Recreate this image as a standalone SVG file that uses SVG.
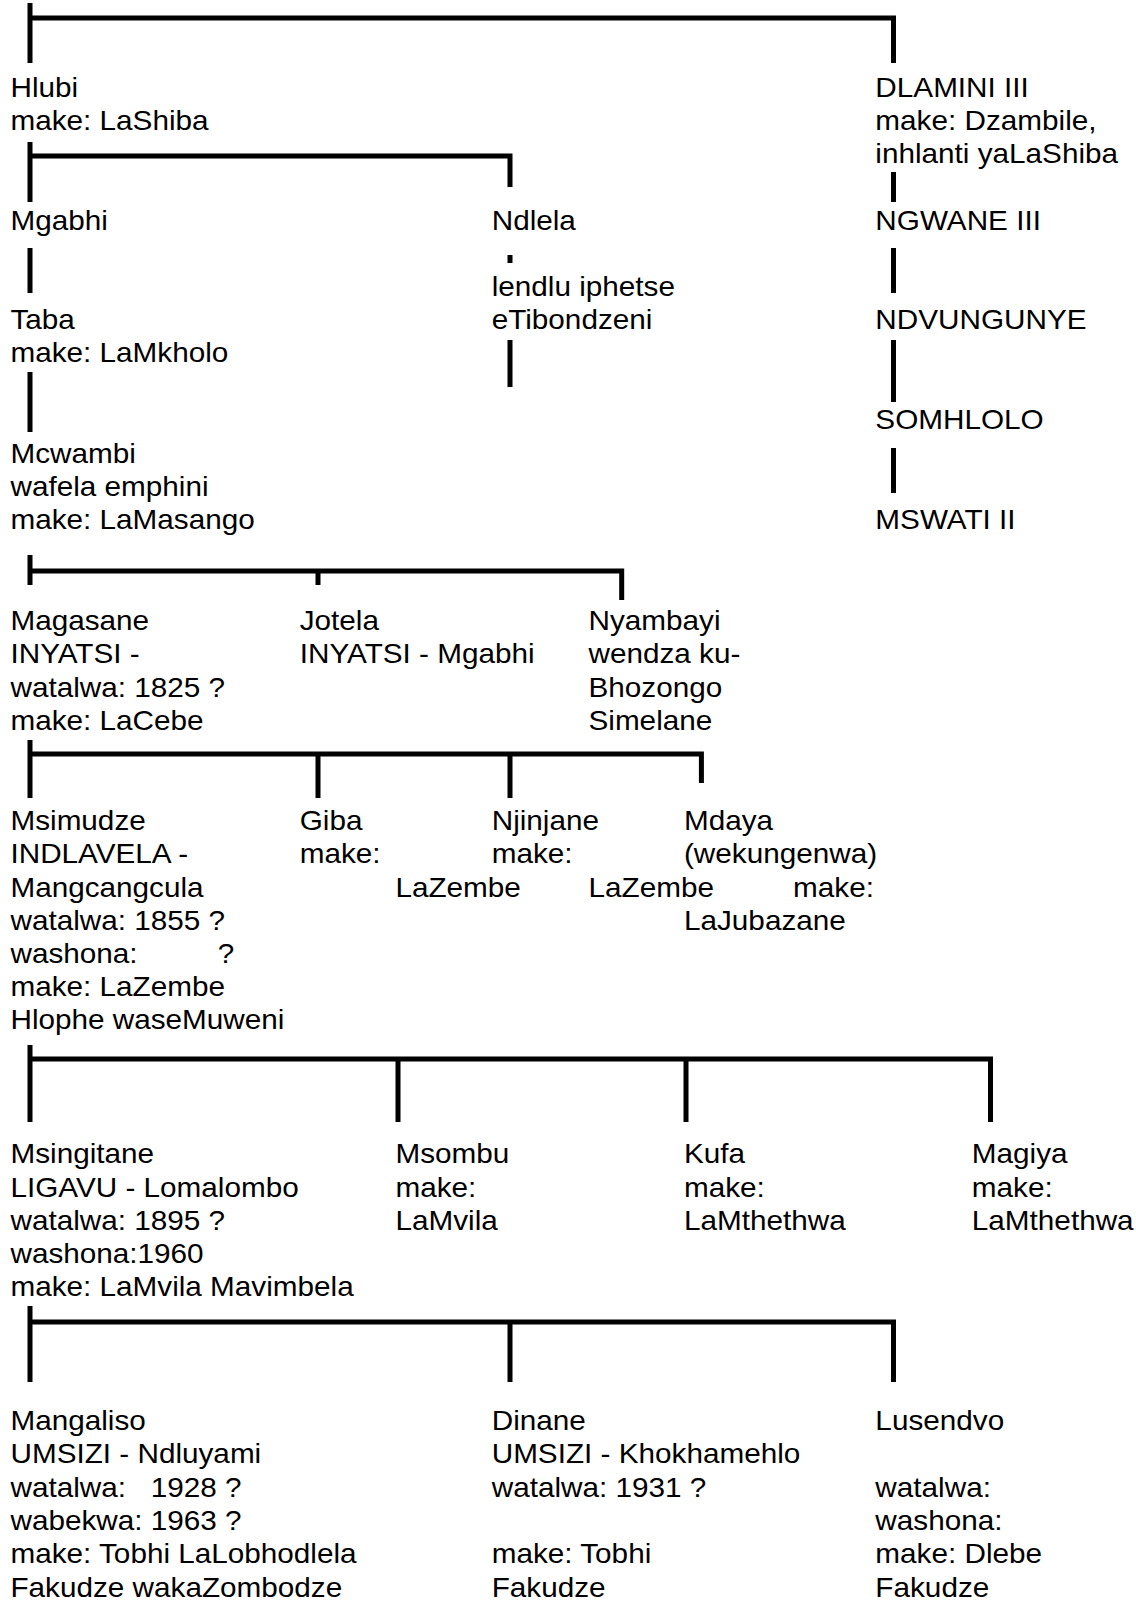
<svg xmlns="http://www.w3.org/2000/svg" width="1136" height="1601" viewBox="0 0 1136 1601">
  <style>
    .t { font-family: "Liberation Sans", Arial, sans-serif; font-size: 27px; fill: #000; white-space: pre; }
    .ln { fill: none; stroke: #000; stroke-width: 5; stroke-linecap: butt; stroke-linejoin: miter; }
  </style>
  <rect width="1136" height="1601" fill="#fff"/>

  <!-- family lines -->
  <g id="connectors">
    <!-- top generation -->
    <path class="ln" d="M30,3 V63"/>
    <path class="ln" d="M30,18 H893.5 V63"/>
    <!-- Hlubi's sons -->
    <path class="ln" d="M30,142 V202"/>
    <path class="ln" d="M30,156 H510 V187"/>
    <path class="ln" d="M510,255 V263"/>
    <path class="ln" d="M510,340 V387"/>
    <!-- left line of descent -->
    <path class="ln" d="M30,248 V293"/>
    <path class="ln" d="M30,372 V432"/>
    <!-- royal line -->
    <path class="ln" d="M893.5,172 V202"/>
    <path class="ln" d="M893.5,248 V293"/>
    <path class="ln" d="M893.5,340 V402"/>
    <path class="ln" d="M893.5,448 V493"/>
    <!-- Mcwambi's sons -->
    <path class="ln" d="M30,555 V585"/>
    <path class="ln" d="M30,571 H621.7 V600"/>
    <path class="ln" d="M318,571 V585"/>
    <!-- Magasane's sons -->
    <path class="ln" d="M30,740 V798"/>
    <path class="ln" d="M30,754 H701.4 V783"/>
    <path class="ln" d="M318,754 V798"/>
    <path class="ln" d="M510,754 V798"/>
    <!-- Msimudze's sons -->
    <path class="ln" d="M30,1045 V1122"/>
    <path class="ln" d="M30,1059 H990.5 V1122"/>
    <path class="ln" d="M398,1059 V1122"/>
    <path class="ln" d="M686,1059 V1122"/>
    <!-- Msingitane's sons -->
    <path class="ln" d="M30,1306 V1382"/>
    <path class="ln" d="M30,1322 H893.5 V1382"/>
    <path class="ln" d="M510,1322 V1382"/>
  </g>

  <!-- names are set in a horizontally widened face -->
  <g id="people" transform="scale(1.1 1)">
    <g id="hlubi"><text class="t" x="9.5" y="97">Hlubi<tspan x="9.5" y="130">make: LaShiba</tspan></text></g>
    <g id="dlamini-iii"><text class="t" x="795.8" y="97">DLAMINI III<tspan x="795.8" y="130">make: Dzambile,</tspan><tspan x="795.8" y="163">inhlanti yaLaShiba</tspan></text></g>
    <g id="mgabhi"><text class="t" x="9.5" y="230">Mgabhi</text></g>
    <g id="ndlela"><text class="t" x="447" y="230">Ndlela</text></g>
    <g id="ndlela-house"><text class="t" x="447" y="296">lendlu iphetse<tspan x="447" y="329">eTibondzeni</tspan></text></g>
    <g id="ngwane-iii"><text class="t" x="795.8" y="230">NGWANE III</text></g>
    <g id="taba"><text class="t" x="9.5" y="329">Taba<tspan x="9.5" y="362">make: LaMkholo</tspan></text></g>
    <g id="ndvungunye"><text class="t" x="795.8" y="329">NDVUNGUNYE</text></g>
    <g id="somhlolo"><text class="t" x="795.8" y="429">SOMHLOLO</text></g>
    <g id="mcwambi"><text class="t" x="9.5" y="463">Mcwambi<tspan x="9.5" y="496">wafela emphini</tspan><tspan x="9.5" y="529">make: LaMasango</tspan></text></g>
    <g id="mswati-ii"><text class="t" x="795.8" y="529">MSWATI II</text></g>

    <g id="magasane"><text class="t" x="9.5" y="630">Magasane<tspan x="9.5" y="663">INYATSI -</tspan><tspan x="9.5" y="697">watalwa: 1825 ?</tspan><tspan x="9.5" y="730">make: LaCebe</tspan></text></g>
    <g id="jotela"><text class="t" x="272.5" y="630">Jotela<tspan x="272.5" y="663">INYATSI - Mgabhi</tspan></text></g>
    <g id="nyambayi"><text class="t" x="535" y="630">Nyambayi<tspan x="535" y="663">wendza ku-</tspan><tspan x="535" y="697">Bhozongo</tspan><tspan x="535" y="730">Simelane</tspan></text></g>

    <g id="msimudze"><text class="t" x="9.5" y="830">Msimudze<tspan x="9.5" y="863">INDLAVELA -</tspan><tspan x="9.5" y="897">Mangcangcula</tspan><tspan x="9.5" y="930">watalwa: 1855 ?</tspan><tspan x="9.5" y="963">washona:</tspan><tspan x="198" y="963">?</tspan><tspan x="9.5" y="996">make: LaZembe</tspan><tspan x="9.5" y="1029">Hlophe waseMuweni</tspan></text></g>
    <g id="giba"><text class="t" x="272.5" y="830">Giba<tspan x="272.5" y="863">make:</tspan><tspan x="359.5" y="897">LaZembe</tspan></text></g>
    <g id="njinjane"><text class="t" x="447" y="830">Njinjane<tspan x="447" y="863">make:</tspan><tspan x="535" y="897">LaZembe</tspan></text></g>
    <g id="mdaya"><text class="t" x="621.8" y="830">Mdaya<tspan x="621.8" y="863">(wekungenwa)</tspan><tspan x="721" y="897">make:</tspan><tspan x="621.8" y="930">LaJubazane</tspan></text></g>

    <g id="msingitane"><text class="t" x="9.5" y="1163">Msingitane<tspan x="9.5" y="1197">LIGAVU - Lomalombo</tspan><tspan x="9.5" y="1230">watalwa: 1895 ?</tspan><tspan x="9.5" y="1263">washona:1960</tspan><tspan x="9.5" y="1296">make: LaMvila Mavimbela</tspan></text></g>
    <g id="msombu"><text class="t" x="359.5" y="1163">Msombu<tspan x="359.5" y="1197">make:</tspan><tspan x="359.5" y="1230">LaMvila</tspan></text></g>
    <g id="kufa"><text class="t" x="621.8" y="1163">Kufa<tspan x="621.8" y="1197">make:</tspan><tspan x="621.8" y="1230">LaMthethwa</tspan></text></g>
    <g id="magiya"><text class="t" x="883.5" y="1163">Magiya<tspan x="883.5" y="1197">make:</tspan><tspan x="883.5" y="1230">LaMthethwa</tspan></text></g>

    <g id="mangaliso"><text class="t" x="9.5" y="1430">Mangaliso<tspan x="9.5" y="1463">UMSIZI - Ndluyami</tspan><tspan x="9.5" y="1497">watalwa:   1928 ?</tspan><tspan x="9.5" y="1530">wabekwa: 1963 ?</tspan><tspan x="9.5" y="1563">make: Tobhi LaLobhodlela</tspan><tspan x="9.5" y="1597">Fakudze wakaZombodze</tspan></text></g>
    <g id="dinane"><text class="t" x="447" y="1430">Dinane<tspan x="447" y="1463">UMSIZI - Khokhamehlo</tspan><tspan x="447" y="1497">watalwa: 1931 ?</tspan><tspan x="447" y="1563">make: Tobhi</tspan><tspan x="447" y="1597">Fakudze</tspan></text></g>
    <g id="lusendvo"><text class="t" x="795.8" y="1430">Lusendvo<tspan x="795.8" y="1497">watalwa:</tspan><tspan x="795.8" y="1530">washona:</tspan><tspan x="795.8" y="1563">make: Dlebe</tspan><tspan x="795.8" y="1597">Fakudze</tspan></text></g>
  </g>
</svg>
